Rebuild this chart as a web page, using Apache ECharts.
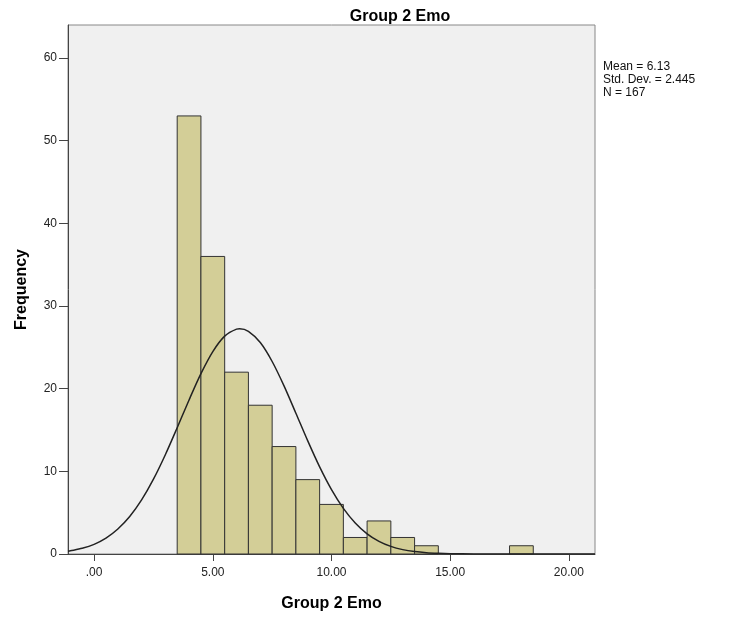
<!DOCTYPE html>
<html>
<head>
<meta charset="utf-8">
<script src="https://cdn.jsdelivr.net/npm/echarts@6/dist/echarts.min.js"></script>
<style>
  html, body { margin: 0; padding: 0; background: #fff; }
  #main { width: 730px; height: 618px; }
</style>
</head>
<body>
<div id="main"></div>
<script>
// histogram bins (width 1), lower edges and counts
var binStarts = [3.5, 4.5, 5.5, 6.5, 7.5, 8.5, 9.5, 10.5, 11.5, 12.5, 13.5, 17.5];
var binCounts = [53, 36, 22, 18, 13, 9, 6, 2, 4, 2, 1, 1];
var binWidth = 1;

// normal curve
var curveX = [-1.1, -1, -0.5, 0, 0.5, 1, 1.5, 2, 2.5, 3, 3.5, 4, 4.5, 5, 5.5, 6, 6.13, 6.5, 7, 7.5, 8, 8.5, 9, 9.5, 10, 10.5, 11, 11.5, 12, 12.5, 13, 13.5, 14, 14.5, 15, 16, 17, 18, 19, 20, 21.1];
var curveY = [0.34, 0.39, 0.69, 1.17, 1.92, 3.02, 4.53, 6.54, 9.05, 12.01, 15.28, 18.64, 21.82, 24.49, 26.36, 27.21, 27.25, 26.94, 25.58, 23.29, 20.34, 17.03, 13.68, 10.54, 7.79, 5.52, 3.75, 2.44, 1.53, 0.92, 0.53, 0.29, 0.15, 0.08, 0.04, 0.01, 0, 0, 0, 0, 0];

var xTicks = [0, 5, 10, 15, 20];
var statsLines = ["Mean = 6.13", "Std. Dev. = 2.445", "N = 167"];

var barData = [];
for (var i = 0; i < binStarts.length; i++) {
    barData.push([binStarts[i], binStarts[i] + binWidth, binCounts[i]]);
}
var curveData = [];
for (var j = 0; j < curveX.length; j++) {
    curveData.push([curveX[j], curveY[j]]);
}

var font = "Liberation Sans, Arial, sans-serif";
var myChart = echarts.init(document.getElementById("main"));
var option = {
    backgroundColor: "#fff",
    animation: false,
    textStyle: { fontFamily: font },
    title: {
        text: "Group 2 Emo",
        left: 395,
        top: 4,
        textAlign: "center",
        textStyle: { fontSize: 16, fontWeight: "bold", color: "#000", fontFamily: font }
    },
    grid: {
        left: 68, right: 135, top: 25, bottom: 64,
        show: true,
        backgroundColor: "#f0f0f0",
        borderColor: "#888",
        borderWidth: 1
    },
    xAxis: {
        type: "value",
        min: -1.1,
        max: 21.1,
        name: "Group 2 Emo",
        nameLocation: "middle",
        nameGap: 42,
        nameTextStyle: { fontSize: 16, fontWeight: "bold", color: "#000", fontFamily: font },
        axisLine: { show: true, onZero: false, lineStyle: { color: "#444", width: 1 } },
        axisTick: { show: true, customValues: xTicks, length: 7, lineStyle: { color: "#444" } },
        axisLabel: {
            customValues: xTicks,
            margin: 13,
            fontSize: 12,
            color: "#222",
            formatter: function (v) { return v.toFixed(2).replace(/^0\./, "."); }
        },
        splitLine: { show: false }
    },
    yAxis: {
        type: "value",
        min: 0,
        max: 64,
        interval: 10,
        name: "Frequency",
        nameLocation: "middle",
        nameGap: 38,
        nameTextStyle: { fontSize: 16, fontWeight: "bold", color: "#000", fontFamily: font },
        axisLine: { show: true, onZero: false, lineStyle: { color: "#444", width: 1 } },
        axisTick: { show: true, length: 9, lineStyle: { color: "#444" } },
        axisLabel: { fontSize: 12, color: "#222", margin: 11, showMaxLabel: false },
        splitLine: { show: false }
    },
    graphic: [{
        type: "text",
        left: 603,
        top: 60,
        style: {
            text: statsLines.join("\n"),
            font: "12px " + font,
            fill: "#111",
            lineHeight: 13
        }
    }],
    series: [{
        type: "custom",
        data: barData,
        encode: { x: [0, 1], y: 2 },
        renderItem: function (params, api) {
            var p0 = api.coord([api.value(0), 0]);
            var p1 = api.coord([api.value(1), api.value(2)]);
            return {
                type: "rect",
                shape: { x: p0[0], y: p1[1], width: p1[0] - p0[0], height: p0[1] - p1[1] },
                style: { fill: "#d3ce97", stroke: "#333", lineWidth: 1 }
            };
        },
        z: 2
    }, {
        type: "line",
        data: curveData,
        smooth: 0.3,
        showSymbol: false,
        symbol: "none",
        lineStyle: { color: "#222", width: 1.5 },
        z: 3
    }]
};
myChart.setOption(option);
</script>
</body>
</html>
